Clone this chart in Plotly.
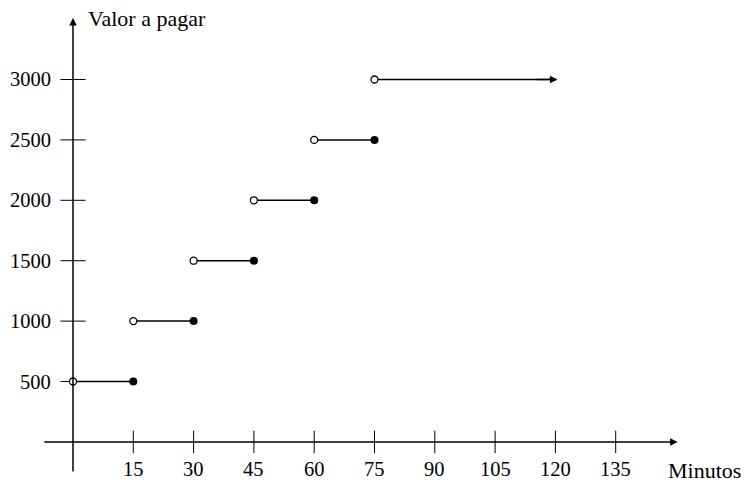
import plotly.graph_objects as go

# Tarifa por tempo de estacionamento (função escada)
limites = [0, 15, 30, 45, 60, 75]          # início de cada faixa (min)
fins = [15, 30, 45, 60, 75, 120]           # fim de cada faixa (min)
valores = [500, 1000, 1500, 2000, 2500, 3000]
x_ticks = [15, 30, 45, 60, 75, 90, 105, 120, 135]
y_ticks = [500, 1000, 1500, 2000, 2500, 3000]

FONT = dict(family="Liberation Serif, DejaVu Serif, serif", size=20.5, color="black")
FONT_TITULO = dict(family="Liberation Serif, DejaVu Serif, serif", size=22, color="black")
BLACK = "black"

fig = go.Figure()

# Degraus horizontais
for a, b, v in zip(limites, fins, valores):
    fig.add_trace(go.Scatter(x=[a, b], y=[v, v], mode="lines",
                             line=dict(color=BLACK, width=1.5),
                             hoverinfo="skip", showlegend=False))

# Marcas de escala nos eixos
fig.add_trace(go.Scatter(x=x_ticks, y=[0] * len(x_ticks), mode="markers",
                         marker=dict(symbol="line-ns", size=16,
                                     line=dict(color=BLACK, width=1)),
                         hoverinfo="skip", showlegend=False))
fig.add_trace(go.Scatter(x=[0] * len(y_ticks), y=y_ticks, mode="markers",
                         marker=dict(symbol="line-ew", size=18,
                                     line=dict(color=BLACK, width=1)),
                         hoverinfo="skip", showlegend=False))

# Eixos com setas
fig.add_annotation(x=150.4, y=0, ax=-7.5, ay=0, xref="x", yref="y",
                   axref="x", ayref="y", showarrow=True, arrowhead=2,
                   arrowsize=1, arrowwidth=1.5, arrowcolor=BLACK, text="")
fig.add_annotation(x=0, y=3510, ax=0, ay=-257, xref="x", yref="y",
                   axref="x", ayref="y", showarrow=True, arrowhead=2,
                   arrowsize=1, arrowwidth=1.5, arrowcolor=BLACK, text="")

# Seta no último degrau (continua indefinidamente)
fig.add_annotation(x=fins[-1] + 0.5, y=valores[-1], ax=fins[-1] - 5, ay=valores[-1],
                   xref="x", yref="y", axref="x", ayref="y", showarrow=True,
                   arrowhead=2, arrowsize=1, arrowwidth=1.5, arrowcolor=BLACK, text="")

# Extremos abertos (bola vazia) e fechados (bola cheia)
fig.add_trace(go.Scatter(x=fins[:-1], y=valores[:-1], mode="markers",
                         marker=dict(symbol="circle", size=8, color=BLACK,
                                     line=dict(color=BLACK, width=0)),
                         hoverinfo="skip", showlegend=False))
fig.add_trace(go.Scatter(x=limites, y=valores, mode="markers",
                         marker=dict(symbol="circle", size=7, color="white",
                                     line=dict(color=BLACK, width=1.3)),
                         hoverinfo="skip", showlegend=False))

# Rótulos das escalas
for t in x_ticks:
    fig.add_annotation(x=t, y=-223, text=str(t), showarrow=False,
                       xanchor="center", yanchor="middle", font=FONT)
for t in y_ticks:
    fig.add_annotation(x=-4.9, y=t, text=str(t), showarrow=False,
                       xanchor="right", yanchor="middle", font=FONT)

# Títulos dos eixos
fig.add_annotation(x=147.6, y=-240, text="Minutos", showarrow=False,
                   xanchor="left", yanchor="middle", font=FONT_TITULO)
fig.add_annotation(x=3.2, y=3505, text="Valor a pagar", showarrow=False,
                   xanchor="left", yanchor="middle", font=FONT_TITULO)

fig.update_layout(
    width=749, height=483,
    margin=dict(l=0, r=0, t=0, b=0),
    paper_bgcolor="white", plot_bgcolor="white",
    xaxis=dict(visible=False, range=[-18.16, 168.16], fixedrange=True),
    yaxis=dict(visible=False, range=[-340, 3658], fixedrange=True),
    showlegend=False,
)

fig.write_html("out.html")
